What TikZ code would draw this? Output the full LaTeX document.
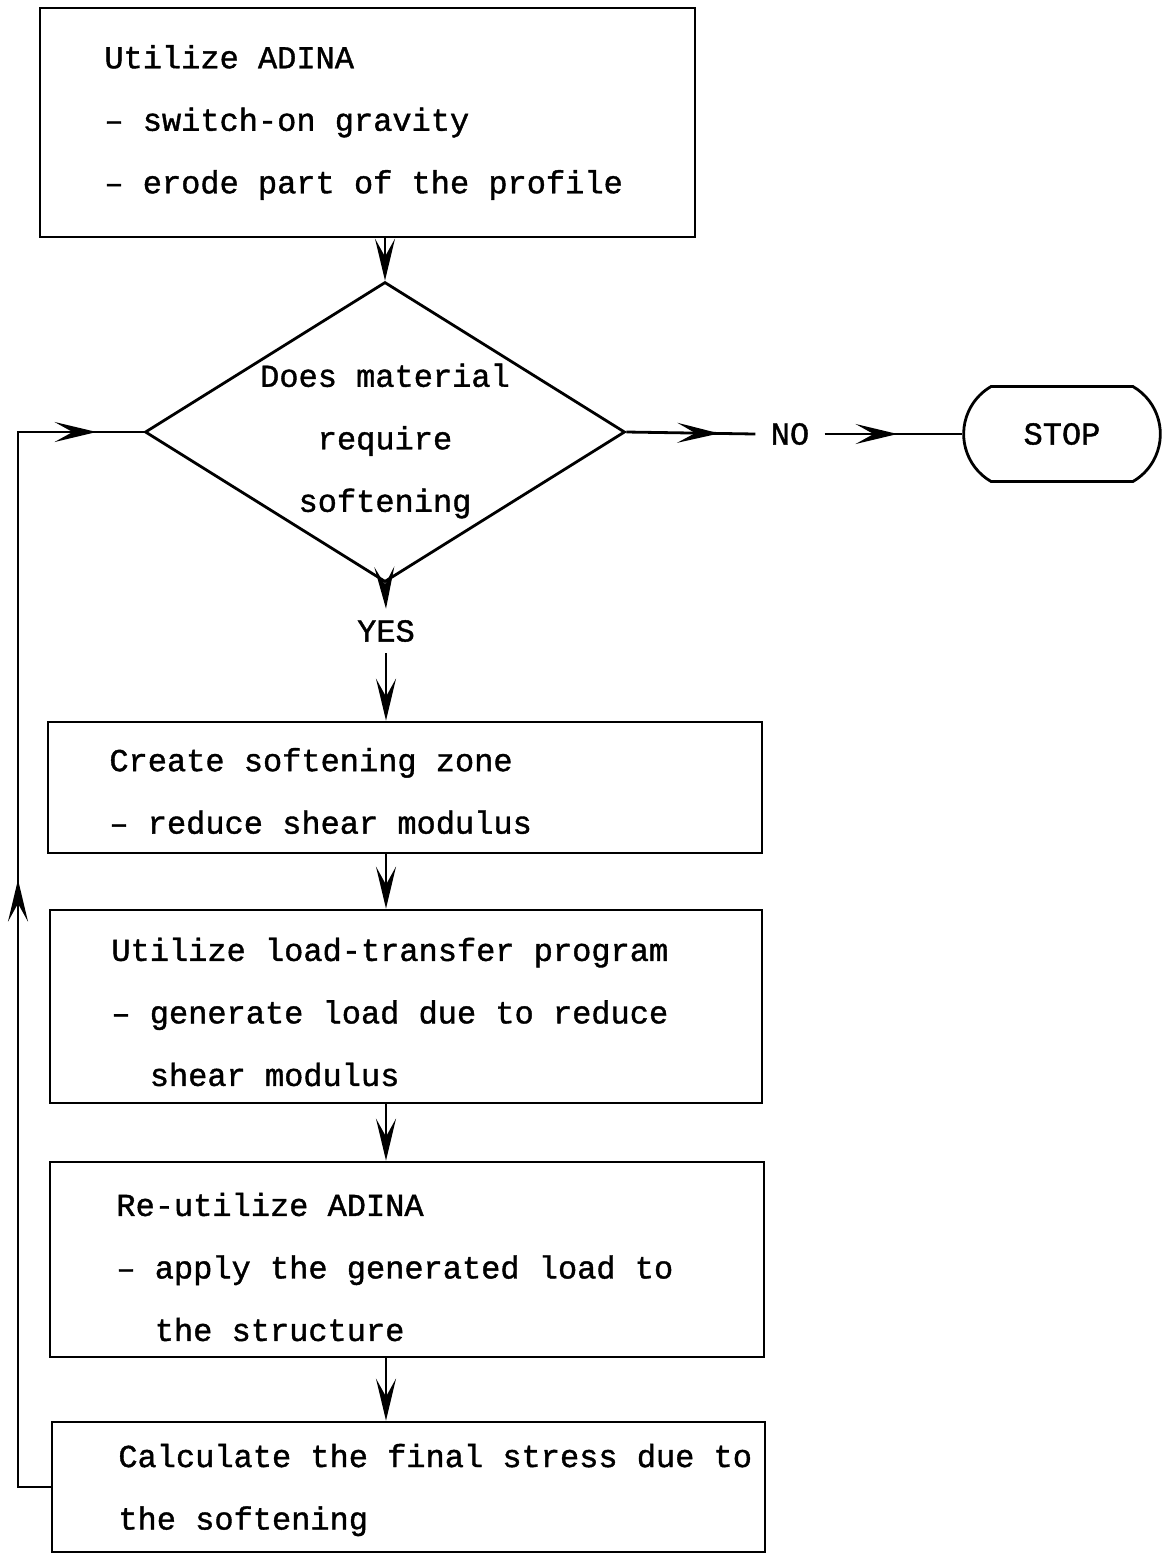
\documentclass[tikz,border=0pt]{standalone}
\usepackage{fontspec}
\newfontfamily\typew[FakeBold=1.2]{Liberation Mono}
\usetikzlibrary{shapes.geometric,shapes.misc,arrows.meta,decorations.markings}

\begin{document}
\begin{tikzpicture}[x=0.5pt,y=0.5pt,yscale=-1,xscale=1,line width=1.4pt,
  stepbox/.style={draw,rectangle,inner sep=0pt},
  steptext/.style={anchor=west,align=left,inner sep=0pt,font=\typew\fontsize{16}{31.25}\selectfont},
  flow/.style={-{Stealth[length=21pt,width=10pt,inset=9pt]}},
  midarrow/.style={postaction={decorate},decoration={markings,mark=at position #1 with {\arrow{Stealth[length=21pt,width=10pt,inset=9pt]}}}},
  looparrow/.style={postaction={decorate},decoration={markings,
    mark=at position 320pt with {\arrow{Stealth[length=21pt,width=10pt,inset=9pt]}},
    mark=at position -23.5pt with {\arrow{Stealth[length=21pt,width=10pt,inset=9pt]}}}}
]
\useasboundingbox (0,0) rectangle (1169,1555);

%Shape: Rectangle [id:box1]
\node [stepbox,minimum width=327.5pt,minimum height=114.5pt] (box1) at (367.5,122.5) {};
%Shape: Diamond [id:dec]
\node [draw,diamond,inner sep=0pt,minimum width=240pt,minimum height=150pt] (dec) at (385,432) {};
%Shape: Rounded Rectangle [id:stop]
\node [draw,rounded rectangle,rounded rectangle arc length=120,minimum width=105pt,minimum height=47.5pt,font=\typew\fontsize{16}{19}\selectfont] (stop) at (1062,434) {STOP};
%Shape: Rectangle [id:box2]
\node [stepbox,minimum width=357pt,minimum height=65.5pt] (box2) at (405,787.5) {};
%Shape: Rectangle [id:box3]
\node [stepbox,minimum width=356pt,minimum height=96.5pt] (box3) at (406,1006.5) {};
%Shape: Rectangle [id:box4]
\node [stepbox,minimum width=357pt,minimum height=97.5pt] (box4) at (407,1259.5) {};
%Shape: Rectangle [id:box5]
\node [stepbox,minimum width=356.5pt,minimum height=65pt] (box5) at (408.5,1487) {};

% Text Node
\node [steptext] (t1) at (103,122.5) {Utilize ADINA\\– switch-on gravity\\– erode part of the profile};
% Text Node
\node [steptext,anchor=center,align=center] (dectext) at (385,441) {Does material\\require\\softening};
% Text Node
\node [font=\typew\fontsize{16}{19}\selectfont,inner xsep=7pt,inner ysep=2pt] (no) at (790,434) {NO};
% Text Node
\node [font=\typew\fontsize{16}{19}\selectfont,inner sep=5pt] (yes) at (386,631) {YES};
% Text Node
\node [steptext] (t2) at (108,791) {Create softening zone\\– reduce shear modulus};
% Text Node
\node [steptext] (t3) at (110,1012) {Utilize load-transfer program\\– generate load due to reduce\\\hphantom{-x}shear modulus};
% Text Node
\node [steptext] (t4) at (115,1267) {Re-utilize ADINA\\– apply the generated load to\\\hphantom{-x}the structure};
% Text Node
\node [steptext] (t5) at (117,1490) {Calculate the final stress due to\\the softening};

%Connectors
\draw [flow] (box1.south -| dec.north) -- (dec.north);
\draw [midarrow=0.72] (dec.east) -- (no.west);
\draw [midarrow=0.53] (no.east) -- (stop.west);
\draw [flow] (dec.south) -- (yes.north);
\draw [flow] (yes.south) -- (yes.south |- box2.north);
\draw [flow] (box2.south -| yes.south) -- (box3.north -| yes.south);
\draw [flow] (box3.south -| yes.south) -- (box4.north -| yes.south);
\draw [flow] (box4.south -| yes.south) -- (box5.north -| yes.south);
\draw [looparrow] (box5.west) -- (18,1487) coordinate (back) |- (dec.west);

\end{tikzpicture}
\end{document}
